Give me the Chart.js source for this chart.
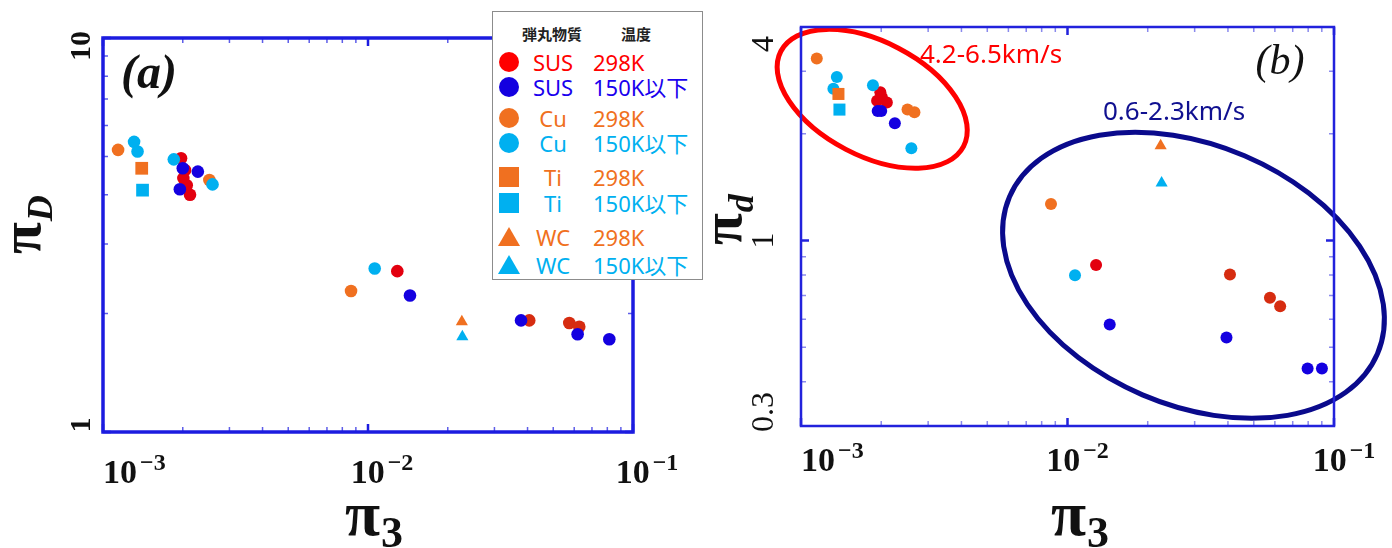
<!DOCTYPE html>
<html>
<head>
<meta charset="utf-8">
<script src="https://cdn.jsdelivr.net/npm/chart.js@4.4.0/dist/chart.umd.min.js"></script>
<style>
  body { margin: 0; background: #fff; width: 1392px; height: 548px; overflow: hidden; position: relative; }
  #wrapA { position: absolute; left: 0; top: 0; width: 700px; height: 548px; }
  #wrapB { position: absolute; left: 700px; top: 0; width: 692px; height: 548px; }
  #legend { position: absolute; left: 492px; top: 11px; width: 211px; height: 269px; box-sizing: border-box;
            border: 1px solid #8c8c8c; background: #fff; z-index: 5;
            font-family: "Noto Sans", "Noto Sans CJK JP", sans-serif; }
  #legend div, #legend svg { position: absolute; white-space: nowrap; }
  .hdr { font-family: "Noto Sans CJK JP", sans-serif; font-weight: bold; font-size: 15px; color: #222; transform: translate(-50%, -50%); }
  .mat { font-size: 22px; transform: translate(-50%, -50%); line-height: 1; }
  .tmp { font-size: 22px; transform: translateY(-50%); line-height: 1; }
</style>
</head>
<body>
<div id="wrapA"><canvas id="chartA" width="700" height="548"></canvas></div>
<div id="wrapB"><canvas id="chartB" width="692" height="548"></canvas></div>
<div id="legend"></div>

<script>
// ---- data: panel (a)  pi_3 vs pi_D ----
const aSus298X = [1.97e-3, 2.04e-3, 2.01e-3, 2.07e-3, 2.13e-3, 1.29e-2, 4.06e-2, 5.75e-2, 6.27e-2];
const aSus298Y = [4.95, 4.62, 4.41, 4.23, 4.0, 2.56, 1.92, 1.89, 1.85];
const aSus150X = [2.0e-3, 2.28e-3, 1.95e-3, 1.44e-2, 3.78e-2, 6.18e-2, 8.14e-2];
const aSus150Y = [4.67, 4.58, 4.13, 2.22, 1.92, 1.77, 1.72];
const aCu298X = [1.14e-3, 2.52e-3, 8.63e-3];
const aCu298Y = [5.20, 4.36, 2.28];
const aCu150X = [1.31e-3, 1.35e-3, 1.85e-3, 2.59e-3, 1.06e-2];
const aCu150Y = [5.45, 5.15, 4.92, 4.25, 2.60];
const aTi298X = [1.40e-3], aTi298Y = [4.67];
const aTi150X = [1.41e-3], aTi150Y = [4.11];
const aWc298X = [2.26e-2], aWc298Y = [1.905];
const aWc150X = [2.27e-2], aWc150Y = [1.746];

// ---- data: panel (b)  pi_3 vs pi_d ----
const bSus298X = [1.985e-3, 2.01e-3, 1.93e-3, 2.10e-3, 1.28e-2, 4.07e-2, 5.75e-2, 6.28e-2];
const bSus298Y = [2.62, 2.54, 2.48, 2.45, 0.853, 0.802, 0.690, 0.653];
const bSus150X = [1.94e-3, 2.0e-3, 2.25e-3, 1.44e-2, 3.95e-2, 7.96e-2, 9.01e-2];
const bSus150Y = [2.32, 2.32, 2.14, 0.580, 0.533, 0.436, 0.436];
const bCu298X = [1.146e-3, 2.51e-3, 2.665e-3, 8.67e-3];
const bCu298Y = [3.26, 2.34, 2.30, 1.267];
const bCu150X = [1.363e-3, 1.323e-3, 1.862e-3, 2.595e-3, 1.067e-2];
const bCu150Y = [2.89, 2.68, 2.74, 1.82, 0.798];
const bTi298X = [1.382e-3], bTi298Y = [2.59];
const bTi150X = [1.394e-3], bTi150Y = [2.34];
const bWc298X = [2.236e-2], bWc298Y = [1.85];
const bWc150X = [2.255e-2], bWc150Y = [1.454];

// tick labels
const xTickVals = [1e-3, 1e-2, 1e-1];
const xTickExp = ['\u22123', '\u22122', '\u22121'];
const aYTickVals = [1, 10];
const aYTickText = ['1', '10'];
const bYTickVals = [0.3, 1, 4];
const bYTickText = ['0.3', '1', '4'];

// legend
const legendHeader = ['弾丸物質', '温度'];
const legendMaterial = ['SUS', 'SUS', 'Cu', 'Cu', 'Ti', 'Ti', 'WC', 'WC'];
const legendTemp = ['298K', '150K以下', '298K', '150K以下', '298K', '150K以下', '298K', '150K以下'];
const legendShape = ['circle', 'circle', 'circle', 'circle', 'rect', 'rect', 'triangle', 'triangle'];

const RED = '#e3000f', RED2 = '#d62c10', BLUE = '#1400e0', ORANGE = '#f07020', CYAN = '#00b0f0';
const legendColor = ['#ff0000', '#1a00ee', ORANGE, CYAN, ORANGE, CYAN, ORANGE, CYAN];
const legendRowY = [50, 75, 106, 131, 165, 191, 225, 253];

function pts(xs, ys) { return xs.map((x, i) => ({ x: x, y: ys[i] })); }
const redColor = c => (c.raw && c.raw.x > 0.03 ? RED2 : RED);

function makeDatasets(d, r) {
  // first dataset is drawn on top
  return [
    { data: pts(d.wc150x, d.wc150y), pointStyle: 'triangle', radius: 7, backgroundColor: CYAN },
    { data: pts(d.wc298x, d.wc298y), pointStyle: 'triangle', radius: 7, backgroundColor: ORANGE },
    { data: pts(d.ti150x, d.ti150y), pointStyle: 'rect', radius: r.sq, backgroundColor: CYAN },
    { data: pts(d.ti298x, d.ti298y), pointStyle: 'rect', radius: r.sq, backgroundColor: ORANGE },
    { data: pts(d.cu150x, d.cu150y), pointStyle: 'circle', radius: r.c, backgroundColor: CYAN },
    { data: pts(d.sus150x, d.sus150y), pointStyle: 'circle', radius: r.c, backgroundColor: BLUE },
    { data: pts(d.cu298x, d.cu298y), pointStyle: 'circle', radius: r.c, backgroundColor: ORANGE },
    { data: pts(d.sus298x, d.sus298y), pointStyle: 'circle', radius: r.c, backgroundColor: redColor }
  ].map(ds => Object.assign(ds, { borderWidth: 0, hoverRadius: ds.radius }));
}

function logTicks(min, max) {
  const out = [];
  for (let e = Math.floor(Math.log10(min)); e <= Math.ceil(Math.log10(max)); e++) {
    for (let m = 1; m <= 9; m++) {
      const v = m * Math.pow(10, e);
      if (v >= min * 0.999 && v <= max * 1.001) out.push({ v: v, major: m === 1 });
    }
  }
  return out;
}

function decoPlugin(P) {
  return {
    id: 'deco',
    afterDraw(chart) {
      const ctx = chart.ctx, a = chart.chartArea, xs = chart.scales.x, ys = chart.scales.y;
      ctx.save();

      // ellipses (centres in data space)
      (P.ellipses || []).forEach(e => {
        ctx.beginPath();
        ctx.ellipse(xs.getPixelForValue(e.x), ys.getPixelForValue(e.y), e.rx, e.ry, e.rot * Math.PI / 180, 0, 2 * Math.PI);
        ctx.strokeStyle = e.color;
        ctx.lineWidth = e.lw;
        ctx.stroke();
      });

      // ticks on all four sides, pointing inwards
      logTicks(xs.min, xs.max).forEach(t => {
        const px = xs.getPixelForValue(t.v), len = t.major ? P.majorLen : P.minorLen;
        ctx.strokeStyle = t.major ? P.frame : P.minorColor;
        ctx.lineWidth = t.major ? 2.5 : 1.5;
        ctx.beginPath();
        ctx.moveTo(px, a.bottom); ctx.lineTo(px, a.bottom - len);
        ctx.moveTo(px, a.top); ctx.lineTo(px, a.top + len);
        ctx.stroke();
      });
      logTicks(ys.min, ys.max).forEach(t => {
        const py = ys.getPixelForValue(t.v), len = t.major ? P.majorLen : P.minorLen;
        ctx.strokeStyle = t.major ? P.frame : P.minorColor;
        ctx.lineWidth = t.major ? 2.5 : 1.5;
        ctx.beginPath();
        ctx.moveTo(a.left, py); ctx.lineTo(a.left + len, py);
        ctx.moveTo(a.right, py); ctx.lineTo(a.right - len, py);
        ctx.stroke();
      });

      // frame
      ctx.strokeStyle = P.frame;
      ctx.lineWidth = P.frameW;
      ctx.strokeRect(a.left, a.top, a.right - a.left, a.bottom - a.top);

      // x tick labels 10^n
      ctx.fillStyle = '#111';
      ctx.textBaseline = 'alphabetic';
      ctx.textAlign = 'left';
      xTickVals.forEach((v, i) => {
        ctx.font = 'bold 34px "Liberation Serif"';
        const wb = ctx.measureText('10').width;
        ctx.font = 'bold 24px "Liberation Serif"';
        const ws = ctx.measureText(xTickExp[i]).width;
        const total = wb + 3 + ws;
        const px = xs.getPixelForValue(v);
        const left = i === 0 ? a.left : px + P.xShift - total / 2;
        ctx.font = 'bold 34px "Liberation Serif"';
        ctx.fillText('10', left, P.xLabelBase);
        ctx.font = 'bold 24px "Liberation Serif"';
        ctx.fillText(xTickExp[i], left + wb + 3, P.xLabelBase - 13);
      });

      // y tick labels, rotated
      ctx.font = P.yTickFont;
      ctx.textAlign = 'center';
      ctx.textBaseline = 'middle';
      P.yTickVals.forEach((v, i) => {
        const py = ys.getPixelForValue(v) + P.yShift[i];
        ctx.save();
        ctx.translate(P.yLabelX, py);
        ctx.rotate(-Math.PI / 2);
        ctx.fillText(P.yTickText[i], 0, 0);
        ctx.restore();
      });

      // x title  pi_3
      ctx.textAlign = 'left';
      ctx.textBaseline = 'alphabetic';
      ctx.font = 'bold 64px "Liberation Serif"';
      ctx.fillText('\u03c0', P.xTitleX, 535);
      const wpi = ctx.measureText('\u03c0').width;
      ctx.font = 'bold 44px "Liberation Serif"';
      ctx.fillText('3', P.xTitleX + wpi + 1, 547);

      // y title  pi_D / pi_d
      ctx.save();
      ctx.translate(P.yTitleX, P.yTitleY);
      ctx.rotate(-Math.PI / 2);
      ctx.font = 'bold 58px "Liberation Serif"';
      ctx.fillText('\u03c0', 0, 0);
      const wpi2 = ctx.measureText('\u03c0').width;
      ctx.font = P.subFont;
      ctx.fillText(P.sub, wpi2 + 1, 12);
      ctx.restore();

      // panel letter
      ctx.textAlign = 'center';
      ctx.textBaseline = 'middle';
      ctx.font = P.letterFont;
      ctx.fillText(P.letter, P.letterX, P.letterY);

      // notes
      ctx.textAlign = 'left';
      ctx.textBaseline = 'alphabetic';
      (P.notes || []).forEach(n => {
        ctx.font = '26px "Noto Sans"';
        ctx.fillStyle = n.color;
        ctx.fillText(n.text, n.x, n.y);
      });
      ctx.restore();
    }
  };
}

function makeChart(id, datasets, P) {
  return new Chart(document.getElementById(id), {
    type: 'scatter',
    data: { datasets: datasets },
    options: {
      responsive: false,
      animation: false,
      devicePixelRatio: 1,
      layout: { padding: { left: 0, top: P.top, right: P.right, bottom: 0 } },
      plugins: { legend: { display: false }, tooltip: { enabled: false } },
      scales: {
        x: { type: 'logarithmic', min: 1e-3, max: 1e-1,
             grid: { display: false }, border: { display: false }, ticks: { display: false },
             afterFit(s) { s.height = P.xAxisH; } },
        y: { type: 'logarithmic', min: P.ymin, max: P.ymax,
             grid: { display: false }, border: { display: false }, ticks: { display: false },
             afterFit(s) { s.width = P.left; } }
      }
    },
    plugins: [decoPlugin(P)]
  });
}

makeChart('chartA', makeDatasets({
  sus298x: aSus298X, sus298y: aSus298Y, sus150x: aSus150X, sus150y: aSus150Y,
  cu298x: aCu298X, cu298y: aCu298Y, cu150x: aCu150X, cu150y: aCu150Y,
  ti298x: aTi298X, ti298y: aTi298Y, ti150x: aTi150X, ti150y: aTi150Y,
  wc298x: aWc298X, wc298y: aWc298Y, wc150x: aWc150X, wc150y: aWc150Y
}, { c: 6.3, sq: 9 }), {
  left: 103, top: 38, right: 67, xAxisH: 116, ymin: 1, ymax: 10,
  frame: '#1c1ce0', frameW: 3.5, minorColor: 'rgba(40,40,225,0.75)', majorLen: 8, minorLen: 5,
  xShift: 14, xLabelBase: 483,
  yTickVals: aYTickVals, yTickText: aYTickText, yShift: [-7, 8], yLabelX: 82,
  yTickFont: 'bold 30px "Liberation Serif"',
  xTitleX: 345, yTitleX: 40, yTitleY: 254, sub: 'D', subFont: 'bold italic 36px "Liberation Serif"',
  letter: '(a)', letterFont: 'bold italic 48px "Liberation Serif"', letterX: 149, letterY: 76
});

makeChart('chartB', makeDatasets({
  sus298x: bSus298X, sus298y: bSus298Y, sus150x: bSus150X, sus150y: bSus150Y,
  cu298x: bCu298X, cu298y: bCu298Y, cu150x: bCu150X, cu150y: bCu150Y,
  ti298x: bTi298X, ti298y: bTi298Y, ti150x: bTi150X, ti150y: bTi150Y,
  wc298x: bWc298X, wc298y: bWc298Y, wc150x: bWc150X, wc150y: bWc150Y
}, { c: 6, sq: 8.5 }), {
  left: 101, top: 27, right: 58, xAxisH: 122, ymin: 0.3, ymax: 4,
  frame: '#2222dc', frameW: 2.5, minorColor: 'rgba(60,60,225,0.6)', majorLen: 8, minorLen: 5,
  xShift: 10, xLabelBase: 471,
  yTickVals: bYTickVals, yTickText: bYTickText, yShift: [-14, 0, 17], yLabelX: 65,
  yTickFont: '32px "Liberation Serif"',
  xTitleX: 351, yTitleX: 41, yTitleY: 245, sub: 'd', subFont: 'bold italic 36px "Liberation Serif"',
  letter: '(b)', letterFont: 'italic 42px "Liberation Serif"', letterX: 580, letterY: 63,
  ellipses: [
    { x: 1.85e-3, y: 2.51, rx: 103, ry: 57, rot: 27.5, color: '#ff0000', lw: 5 },
    { x: 2.97e-2, y: 0.798, rx: 200, ry: 130, rot: 23.1, color: '#0a0a8c', lw: 5 }
  ],
  notes: [
    { text: '4.2-6.5km/s', x: 220, y: 63, color: '#ff0000' },
    { text: '0.6-2.3km/s', x: 403, y: 120, color: '#101090' }
  ]
});

// HTML legend for panel (a)
const lg = document.getElementById('legend');
function addDiv(cls, text, x, y, color) {
  const d = document.createElement('div');
  d.className = cls;
  d.textContent = text;
  d.style.left = x + 'px';
  d.style.top = y + 'px';
  if (color) d.style.color = color;
  lg.appendChild(d);
}
addDiv('hdr', legendHeader[0], 59, 21);
addDiv('hdr', legendHeader[1], 143, 21);
legendMaterial.forEach((m, i) => {
  const y = legendRowY[i], col = legendColor[i];
  const svg = document.createElementNS('http://www.w3.org/2000/svg', 'svg');
  svg.setAttribute('width', 24); svg.setAttribute('height', 24);
  svg.style.left = '4px'; svg.style.top = (y - 12) + 'px';
  let shape;
  if (legendShape[i] === 'circle') {
    shape = document.createElementNS(svg.namespaceURI, 'circle');
    shape.setAttribute('cx', 12); shape.setAttribute('cy', 12); shape.setAttribute('r', 10);
  } else if (legendShape[i] === 'rect') {
    shape = document.createElementNS(svg.namespaceURI, 'rect');
    shape.setAttribute('x', 2); shape.setAttribute('y', 2); shape.setAttribute('width', 20); shape.setAttribute('height', 20);
  } else {
    shape = document.createElementNS(svg.namespaceURI, 'polygon');
    shape.setAttribute('points', '12,2 23,21 1,21');
  }
  shape.setAttribute('fill', legendShape[i] === 'circle' && i === 0 ? '#ff0000' : (i === 1 ? BLUE : col));
  svg.appendChild(shape);
  lg.appendChild(svg);
  addDiv('mat', m, 60, y, col);
  addDiv('tmp', legendTemp[i], 100, y, col);
});
</script>
</body>
</html>
